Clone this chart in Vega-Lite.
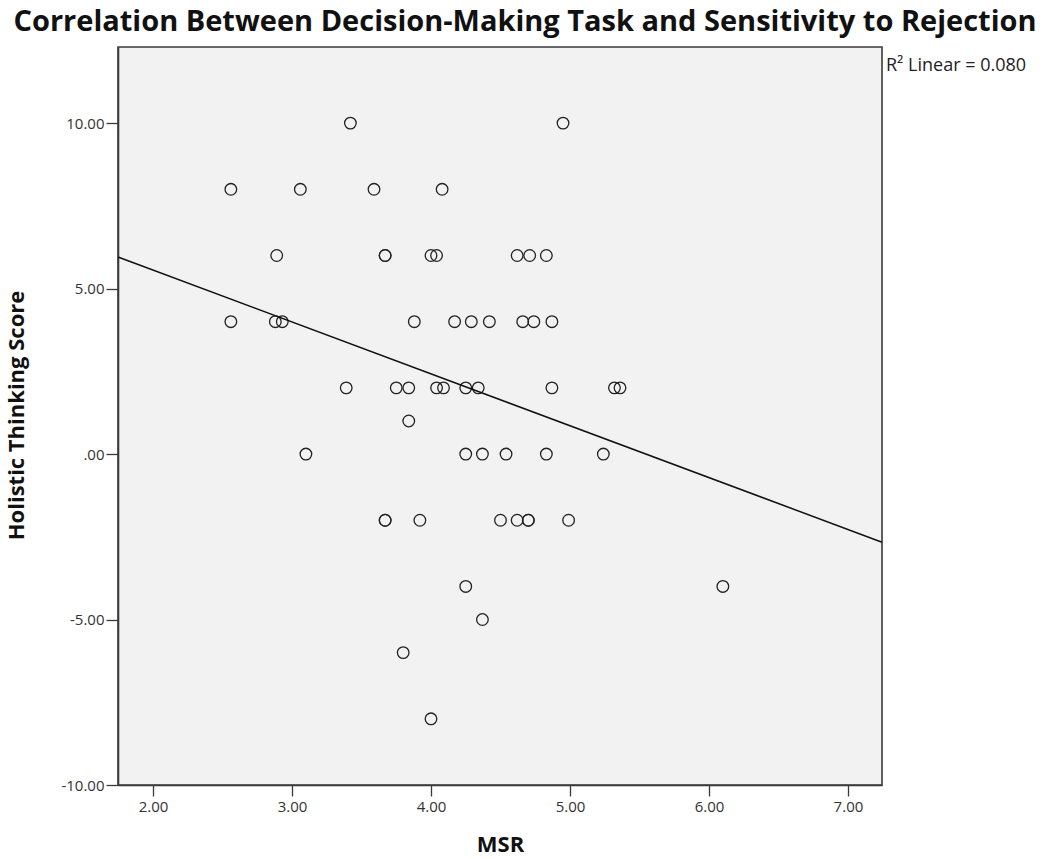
{
  "$schema": "https://vega.github.io/schema/vega-lite/v6.json",
  "width": 764,
  "height": 738,
  "autosize": {"type": "none"},
  "padding": {"left": 118, "top": 47, "right": 168, "bottom": 74},
  "background": "white",
  "config": {
    "view": {"fill": "#f2f2f2", "stroke": "#3a3a3a", "strokeWidth": 1.6},
    "font": "Open Sans"
  },
  "title": {
    "text": "Correlation Between Decision-Making Task and Sensitivity to Rejection",
    "font": "Open Sans",
    "fontSize": 29,
    "fontWeight": "bold",
    "color": "#111111",
    "anchor": "middle",
    "frame": "group",
    "dx": 25,
    "offset": 10
  },
  "data": {
    "values": [
      {"msr": 3.42, "score": 10}, {"msr": 4.95, "score": 10},
      {"msr": 2.56, "score": 8}, {"msr": 3.06, "score": 8}, {"msr": 3.59, "score": 8}, {"msr": 4.08, "score": 8},
      {"msr": 2.89, "score": 6}, {"msr": 3.67, "score": 6}, {"msr": 3.67, "score": 6}, {"msr": 4.00, "score": 6}, {"msr": 4.04, "score": 6}, {"msr": 4.62, "score": 6}, {"msr": 4.71, "score": 6}, {"msr": 4.83, "score": 6},
      {"msr": 2.56, "score": 4}, {"msr": 2.88, "score": 4}, {"msr": 2.93, "score": 4}, {"msr": 3.88, "score": 4}, {"msr": 4.17, "score": 4}, {"msr": 4.29, "score": 4}, {"msr": 4.42, "score": 4}, {"msr": 4.66, "score": 4}, {"msr": 4.74, "score": 4}, {"msr": 4.87, "score": 4},
      {"msr": 3.39, "score": 2}, {"msr": 3.75, "score": 2}, {"msr": 3.84, "score": 2}, {"msr": 4.04, "score": 2}, {"msr": 4.09, "score": 2}, {"msr": 4.25, "score": 2}, {"msr": 4.34, "score": 2}, {"msr": 4.87, "score": 2}, {"msr": 5.32, "score": 2}, {"msr": 5.36, "score": 2},
      {"msr": 3.84, "score": 1},
      {"msr": 3.10, "score": 0}, {"msr": 4.25, "score": 0}, {"msr": 4.37, "score": 0}, {"msr": 4.54, "score": 0}, {"msr": 4.83, "score": 0}, {"msr": 5.24, "score": 0},
      {"msr": 3.67, "score": -2}, {"msr": 3.67, "score": -2}, {"msr": 3.92, "score": -2}, {"msr": 4.50, "score": -2}, {"msr": 4.62, "score": -2}, {"msr": 4.70, "score": -2}, {"msr": 4.70, "score": -2}, {"msr": 4.99, "score": -2},
      {"msr": 4.25, "score": -4}, {"msr": 6.10, "score": -4},
      {"msr": 4.37, "score": -5},
      {"msr": 3.80, "score": -6},
      {"msr": 4.00, "score": -8}
    ]
  },
  "layer": [
    {
      "mark": {"type": "point", "shape": "circle", "filled": false, "size": 135, "stroke": "#222222", "strokeWidth": 1.3, "opacity": 1},
      "encoding": {
        "x": {
          "field": "msr", "type": "quantitative",
          "scale": {"domain": [1.748, 7.245], "nice": false, "zero": false},
          "axis": {
            "title": "MSR",
            "values": [2, 3, 4, 5, 6, 7],
            "format": ".2f",
            "grid": false,
            "domainColor": "#3a3a3a",
            "domainWidth": 1.6,
            "tickColor": "#3a3a3a",
            "tickWidth": 1.3,
            "tickSize": 11,
            "labelFontSize": 15,
            "labelColor": "#333333",
            "labelPadding": 3,
            "titleFontSize": 22,
            "titleFontWeight": "bold",
            "titleColor": "#111111",
            "titleY": 49,
            "titleBaseline": "top"
          }
        },
        "y": {
          "field": "score", "type": "quantitative",
          "scale": {"domain": [-10, 12.3], "nice": false, "zero": false},
          "axis": {
            "title": "Holistic Thinking Score",
            "values": [-10, -5, 0, 5, 10],
            "labelExpr": "datum.value == 0 ? '.00' : (datum.value < 0 ? '-' : '') + format(abs(datum.value), '.2f')",
            "grid": false,
            "domainColor": "#3a3a3a",
            "domainWidth": 1.6,
            "tickColor": "#3a3a3a",
            "tickWidth": 1.3,
            "tickSize": 12,
            "labelFontSize": 15,
            "labelColor": "#333333",
            "labelPadding": 2,
            "titleFontSize": 22,
            "titleFontWeight": "bold",
            "titleColor": "#111111",
            "titleX": -102,
            "titleY": 368,
            "titleAngle": -90,
            "titleBaseline": "middle"
          }
        }
      }
    },
    {
      "transform": [{"regression": "score", "on": "msr", "extent": [1.748, 7.245]}],
      "mark": {"type": "line", "color": "#111111", "strokeWidth": 1.5},
      "encoding": {
        "x": {"field": "msr", "type": "quantitative"},
        "y": {"field": "score", "type": "quantitative"}
      }
    },
    {
      "data": {"values": [{"msr": 7.245, "score": 12.3, "label": "R² Linear  =  0.080"}]},
      "mark": {"type": "text", "align": "left", "baseline": "middle", "dx": 4, "dy": 19, "fontSize": 18, "font": "Open Sans", "color": "#222222"},
      "encoding": {
        "x": {"field": "msr", "type": "quantitative"},
        "y": {"field": "score", "type": "quantitative"},
        "text": {"field": "label"}
      }
    }
  ]
}
